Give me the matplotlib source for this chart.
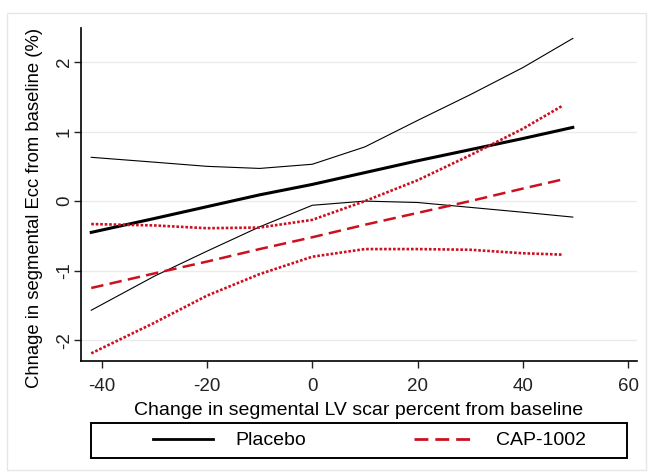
import matplotlib.pyplot as plt
from matplotlib.lines import Line2D
from matplotlib.patches import Rectangle

plt.rcParams['font.family'] = ['Liberation Sans', 'DejaVu Sans']
plt.rcParams['axes.unicode_minus'] = False

# Placebo: fitted line and 95% CI band
x_placebo = [-42, -30, -20, -10, 0, 10, 20, 30, 40, 49.5]
fit_placebo = [-0.45, -0.25, -0.08, 0.09, 0.24, 0.41, 0.58, 0.74, 0.90, 1.06]
upper_placebo = [0.63, 0.56, 0.50, 0.47, 0.53, 0.78, 1.16, 1.53, 1.92, 2.34]
lower_placebo = [-1.57, -1.08, -0.72, -0.37, -0.06, 0.0, -0.02, -0.09, -0.16, -0.23]

# CAP-1002
x_cap = [-42, -30, -20, -10, 0, 10, 20, 30, 40, 47.5]
fit_cap = [-1.25, -1.04, -0.87, -0.69, -0.52, -0.34, -0.17, 0.0, 0.18, 0.31]
upper_cap = [-0.33, -0.35, -0.39, -0.38, -0.27, 0.0, 0.30, 0.66, 1.04, 1.37]
lower_cap = [-2.19, -1.75, -1.36, -1.05, -0.80, -0.69, -0.69, -0.70, -0.75, -0.77]

xticks = [-40, -20, 0, 20, 40, 60]
yticks = [-2, -1, 0, 1, 2]

red = '#cc1020'

fig = plt.figure(figsize=(6.48, 4.72), dpi=100)
fig.patches.append(Rectangle((7 / 648, 2 / 472), 639 / 648, 457 / 472, transform=fig.transFigure,
                             fill=False, edgecolor='#e6e6e6', lw=1))
ax = fig.add_axes([80.7 / 648, 1 - 361 / 472, (637 - 80.7) / 648, (361 - 28) / 472])

ax.plot(x_placebo, upper_placebo, color='black', lw=0.8)
ax.plot(x_placebo, lower_placebo, color='black', lw=0.8)
ax.plot(x_placebo, fit_placebo, color='black', lw=2.2)

ax.plot(x_cap, upper_cap, color=red, lw=1.9, linestyle=(0, (1, 0.7)))
ax.plot(x_cap, lower_cap, color=red, lw=1.9, linestyle=(0, (1, 0.7)))
ax.plot(x_cap, fit_cap, color=red, lw=1.8, linestyle=(0, (5, 2.5)))

ax.set_xlim(-44.0, 61.7)
ax.set_ylim(-2.30, 2.49)
ax.set_xticks(xticks)
ax.set_yticks(yticks)
ax.set_yticklabels([str(v) for v in yticks], rotation=90, va='center')
ax.tick_params(labelsize=13.5, length=5, width=1, colors='#222222')
ax.tick_params(axis='x', pad=7.5)
ax.tick_params(axis='y', pad=0.5)
ax.yaxis.grid(True, color='#ebebeb', lw=1)
ax.set_axisbelow(True)
for s in ['top', 'right']:
    ax.spines[s].set_visible(False)
for s in ['left', 'bottom']:
    ax.spines[s].set_linewidth(1.2)

ax.set_xlabel('Change in segmental LV scar percent from baseline', fontsize=14, labelpad=4.5)
fig.text(35 / 648, 1 - 208 / 472, 'Chnage in segmental Ecc from baseline (%)', rotation=90,
         ha='center', va='center', fontsize=13.3)

# legend box and entries
fig.patches.append(Rectangle((91 / 648, 1 - 458 / 472), 536 / 648, 35 / 472, transform=fig.transFigure,
                             fill=False, edgecolor='black', lw=1.4))
handles = [Line2D([], [], color='black', lw=2.0),
           Line2D([], [], color=red, lw=2.0, linestyle=(0, (5, 2.5)))]
fig.legend(handles, ['Placebo', 'CAP-1002'], loc='center left',
           bbox_to_anchor=(153 / 648, 1 - 440.5 / 472), ncol=2, fontsize=14,
           handlelength=3.09, handletextpad=1.13, columnspacing=5.57,
           frameon=False, borderpad=0, borderaxespad=0)

fig.savefig('out.png', dpi=100, facecolor='white')
